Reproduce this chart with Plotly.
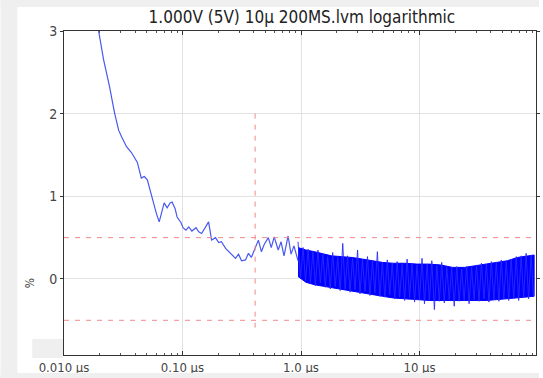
import plotly.graph_objects as go

# ---- data (time in microseconds, value in %) ----
early_x = [0.01853, 0.0196, 0.0216, 0.0242, 0.0267, 0.0289, 0.0306, 0.0337, 0.0371, 0.0416,
           0.0449, 0.0476, 0.0505, 0.0556, 0.0600, 0.0636, 0.0673, 0.0700, 0.0742, 0.0786,
           0.0817, 0.0866, 0.0900, 0.0972, 0.101, 0.107, 0.113, 0.120, 0.130, 0.137,
           0.145, 0.154, 0.166, 0.176, 0.190, 0.202, 0.213, 0.231, 0.245, 0.259,
           0.280, 0.297, 0.315, 0.340, 0.360, 0.381, 0.404, 0.437, 0.463, 0.490,
           0.530, 0.561, 0.594, 0.642, 0.679, 0.719, 0.778, 0.824, 0.872, 0.944]
early_y = [3.15, 3.00, 2.65, 2.33, 2.01, 1.80, 1.72, 1.60, 1.53, 1.41,
           1.22, 1.24, 1.20, 0.96, 0.80, 0.69, 0.82, 0.92, 0.86, 0.92,
           0.93, 0.85, 0.75, 0.68, 0.62, 0.59, 0.63, 0.58, 0.62, 0.57,
           0.55, 0.62, 0.69, 0.47, 0.50, 0.44, 0.45, 0.37, 0.33, 0.30,
           0.25, 0.30, 0.22, 0.23, 0.31, 0.26, 0.36, 0.47, 0.33, 0.42,
           0.50, 0.38, 0.51, 0.35, 0.45, 0.28, 0.52, 0.30, 0.40, 0.22]

# noisy band: peaks (top) and troughs (bottom)
top_x = [0.944, 1.04, 1.15, 1.26, 1.39, 1.53, 1.68, 1.85, 2.04, 2.25, 2.47, 2.72, 3.00, 3.30,
         3.64, 4.01, 4.41, 4.86, 5.35, 5.89, 6.48, 7.14, 7.86, 8.65, 9.53, 10.5, 11.6, 12.7,
         14.0, 15.4, 17.0, 18.7, 20.6, 22.7, 25.0, 27.5, 30.3, 33.3, 36.7, 40.4, 44.5, 49.0,
         54.0, 59.4, 65.5, 72.1, 79.4, 87.4]
top_y = [0.45, 0.38, 0.36, 0.33, 0.35, 0.30, 0.27, 0.32, 0.26, 0.43, 0.28, 0.25, 0.35, 0.24,
         0.27, 0.22, 0.33, 0.20, 0.23, 0.19, 0.21, 0.18, 0.24, 0.19, 0.17, 0.25, 0.18, 0.22,
         0.16, 0.20, 0.14, 0.13, 0.15, 0.12, 0.15, 0.14, 0.17, 0.19, 0.18, 0.21, 0.20, 0.23,
         0.21, 0.24, 0.27, 0.28, 0.31, 0.29]
bot_x = [0.990, 1.091, 1.201, 1.322, 1.456, 1.603, 1.766, 1.944, 2.141, 2.357, 2.596, 2.858,
         3.147, 3.465, 3.815, 4.201, 4.627, 5.094, 5.610, 6.177, 6.801, 7.490, 8.248, 9.082,
         10.0, 11.01, 12.13, 13.35, 14.70, 16.19, 17.83, 19.63, 21.61, 23.80, 26.21, 28.86,
         31.78, 34.99, 38.53, 42.43, 46.72, 51.44, 56.64, 62.37, 68.68, 75.63, 83.28, 91.7]
bot_y = [0.02, -0.02, -0.05, -0.08, -0.05, -0.10, -0.12, -0.09, -0.14, -0.12, -0.16, -0.13,
         -0.18, -0.15, -0.20, -0.17, -0.21, -0.22, -0.19, -0.24, -0.22, -0.26, -0.23, -0.28,
         -0.25, -0.30, -0.26, -0.37, -0.27, -0.29, -0.25, -0.33, -0.27, -0.26, -0.30, -0.25,
         -0.27, -0.24, -0.28, -0.25, -0.27, -0.24, -0.26, -0.23, -0.26, -0.22, -0.24, -0.22]

# dense core of the band
core_x = [0.944, 1.1, 1.3, 1.5, 1.8, 2.2, 2.7, 3.3, 4.0, 4.9, 6.0, 7.5, 9.5, 12, 15, 19,
          24, 30, 37, 45, 55, 67, 80, 92.7]
core_hi = [0.38, 0.35, 0.33, 0.31, 0.28, 0.27, 0.26, 0.24, 0.22, 0.20, 0.19, 0.19, 0.18,
           0.18, 0.17, 0.14, 0.14, 0.16, 0.18, 0.20, 0.22, 0.26, 0.28, 0.29]
core_lo = [0.03, -0.04, -0.07, -0.09, -0.11, -0.13, -0.15, -0.17, -0.19, -0.21, -0.23, -0.24,
           -0.25, -0.26, -0.26, -0.26, -0.26, -0.26, -0.26, -0.25, -0.24, -0.23, -0.22, -0.21]

limit_levels = [0.5, -0.5]
marker_x = 0.41
marker_y = [2.0, -0.62]

xtick_vals = [0.01, 0.1, 1, 10]
xtick_text = ["0.010 µs", "0.10 µs", "1.0 µs", "10 µs"]
ytick_vals = [0, 1, 2, 3]

title_text = "1.000V (5V) 10µ 200MS.lvm logarithmic"

BLUE = "#0000ff"
RED = "#f08a8a"
GREY = "#efefef"
FONT = "DejaVu Sans Condensed, Liberation Sans Narrow, DejaVu Sans, sans-serif"

zig_x, zig_y = [], []
for i in range(len(top_x)):
    zig_x += [top_x[i], bot_x[i]]
    zig_y += [top_y[i], bot_y[i]]

fig = go.Figure()
fig.add_trace(go.Scatter(x=core_x + core_x[::-1], y=core_hi + core_lo[::-1],
                         fill="toself", fillcolor=BLUE, mode="lines",
                         line=dict(width=1, color=BLUE), hoverinfo="skip", showlegend=False))
fig.add_trace(go.Scatter(x=early_x, y=early_y, mode="lines",
                         line=dict(color="#4858f0", width=1.2), showlegend=False))
fig.add_trace(go.Scatter(x=zig_x, y=zig_y, mode="lines",
                         line=dict(color="#2a2aff", width=0.9), showlegend=False))

for lv in limit_levels:
    fig.add_trace(go.Scatter(x=[0.01, 96], y=[lv, lv], mode="lines",
                             line=dict(color=RED, width=1, dash="5px,6px"), showlegend=False))
fig.add_trace(go.Scatter(x=[marker_x, marker_x], y=marker_y, mode="lines",
                         line=dict(color=RED, width=1, dash="5px,6px"), showlegend=False))

# grey frame strips (figure-pixel positions converted to plot-domain fractions)
def px_x(p):
    return (p - 64) / 476.0

def px_y(p):
    return (355 - p) / 324.0

strips = [
    (0, 17, 0, 378),     # left strip
    (0, 543, 0, 7),      # top strip
    (0, 543, 373, 378),  # bottom strip
    (32, 63, 339, 358),  # small grey patch
]
shapes = [dict(type="rect", xref="paper", yref="paper",
               x0=px_x(a), x1=px_x(b), y0=px_y(d), y1=px_y(c),
               fillcolor=GREY, line=dict(width=0), layer="above") for a, b, c, d in strips]

fig.update_layout(
    width=543, height=378,
    margin=dict(l=64, r=3, t=31, b=23),
    paper_bgcolor="#ffffff", plot_bgcolor="#ffffff",
    font=dict(family=FONT, size=13, color="#333"),
    title=dict(text=title_text, x=0.556, xanchor="center", y=0.955, yanchor="middle",
               font=dict(size=17, color="#222", family=FONT)),
    shapes=shapes,
    annotations=[dict(text="%", xref="paper", yref="paper", x=px_x(30), y=px_y(283),
                      xanchor="center", yanchor="middle", showarrow=False,
                      textangle=-90, font=dict(size=12, color="#444"))],
)
fig.update_xaxes(type="log", range=[-2, 1.983], tickvals=xtick_vals, ticktext=xtick_text,
                 showgrid=True, gridcolor="#e2e2e2", gridwidth=1,
                 showline=True, linecolor="#333", linewidth=1, mirror="ticks",
                 ticks="inside", ticklen=4, tickcolor="#333",
                 minor=dict(ticks="inside", ticklen=2, tickcolor="#555", showgrid=False, dtick="D1"),
                 tickfont=dict(size=13, color="#444"), zeroline=False)
fig.update_yaxes(range=[-0.92, 3], tickvals=ytick_vals,
                 showgrid=True, gridcolor="#e2e2e2", gridwidth=1,
                 showline=True, linecolor="#333", linewidth=1, mirror="ticks",
                 ticks="outside", ticklen=3, tickcolor="#333",
                 tickfont=dict(size=14, color="#444"), zeroline=False)

fig.write_html("out.html")
